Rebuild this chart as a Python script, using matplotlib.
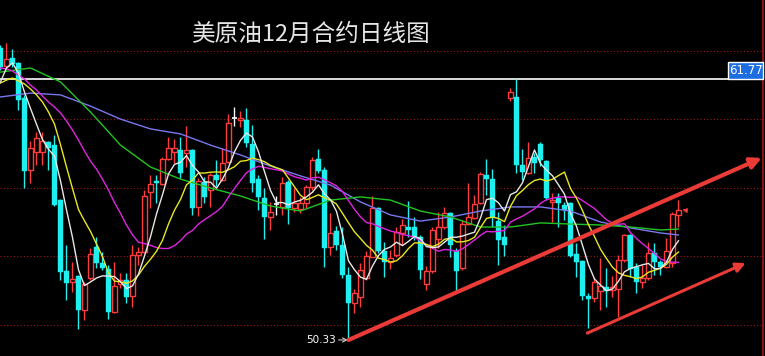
import numpy as np
import pandas as pd
import matplotlib
matplotlib.use("Agg")
import matplotlib.pyplot as plt
from matplotlib.collections import LineCollection
from matplotlib.patches import Rectangle

plt.rcParams['font.family'] = ['Noto Sans CJK SC', 'DejaVu Sans']

title = "美原油12月合约日线图"

opens = [63.13, 62.34, 62.69, 62.47, 60.93, 57.78, 58.57, 58.57, 59.01, 58.88,
         56.46, 53.35, 52.87, 53.13, 51.64, 53.05, 54.40, 53.70, 53.44, 51.56,
         52.78, 52.96, 52.26, 54.05, 54.18, 56.81, 57.30, 57.17, 58.26, 58.57,
         58.66, 58.52, 58.66, 56.16, 57.25, 56.90, 57.56, 57.34, 58.13, 60.06,
         59.97, 59.97, 58.92, 57.38, 56.55, 55.72, 56.29, 56.16, 57.25, 56.11,
         56.07, 56.33, 57.03, 58.26, 57.78, 54.40, 55.11, 54.49, 53.18, 51.95,
         52.21, 53.05, 53.97, 56.11, 54.23, 53.75, 54.05, 55.02, 55.28, 55.28,
         54.84, 52.78, 53.35, 54.75, 55.28, 55.89, 54.23, 53.48, 55.41, 55.68,
         56.33, 57.56, 57.38, 55.54, 54.84, 60.93, 60.98, 58.00, 57.65, 58.35,
         58.92, 58.17, 56.38, 56.55, 56.25, 56.33, 54.10, 53.79, 52.26, 52.17,
         52.48, 52.65, 52.52, 52.56, 53.83, 54.93, 53.53, 52.87, 53.05, 54.14,
         53.75, 53.53, 53.70, 55.81]

highs = [63.26, 63.35, 63.08, 62.51, 61.07, 59.05, 59.44, 59.44, 59.05, 59.31,
         56.51, 54.49, 53.75, 53.18, 52.87, 54.36, 54.84, 54.18, 53.62, 53.75,
         53.26, 53.26, 54.49, 54.40, 56.90, 57.56, 57.56, 58.35, 59.23, 59.14,
         59.23, 59.71, 58.70, 57.43, 57.47, 57.65, 58.22, 58.74, 60.23, 60.54,
         60.37, 60.50, 59.75, 57.56, 56.99, 56.38, 56.64, 57.47, 57.34, 56.99,
         56.60, 57.12, 58.35, 58.70, 57.91, 55.89, 55.32, 55.28, 53.53, 52.56,
         53.70, 54.23, 56.64, 56.16, 54.62, 54.27, 55.28, 55.63, 56.42, 55.72,
         54.93, 53.57, 55.28, 55.94, 56.16, 55.94, 54.36, 55.59, 57.21, 56.68,
         57.69, 58.26, 57.82, 55.94, 55.37, 61.37, 61.77, 58.70, 59.01, 58.52,
         59.01, 58.22, 56.77, 56.77, 56.38, 56.38, 54.58, 53.83, 52.39, 53.09,
         53.92, 53.48, 53.13, 54.05, 54.97, 54.97, 53.70, 53.62, 54.62, 54.58,
         53.83, 54.80, 55.94, 56.46]

lows = [62.16, 62.25, 62.29, 60.41, 56.99, 57.21, 58.00, 58.00, 57.78, 56.20,
        52.96, 52.08, 52.43, 50.81, 51.20, 52.96, 53.48, 53.40, 51.25, 51.51,
        52.61, 51.95, 51.77, 53.62, 54.14, 56.11, 56.33, 57.12, 58.22, 58.09,
        57.43, 57.91, 55.81, 55.76, 56.33, 56.16, 57.08, 57.30, 58.09, 59.71,
        59.66, 58.79, 56.81, 56.03, 54.75, 55.15, 55.81, 55.81, 55.41, 55.94,
        55.89, 56.11, 56.90, 57.65, 53.53, 54.05, 54.27, 53.05, 50.33, 51.51,
        51.77, 52.96, 53.97, 54.14, 53.09, 53.44, 53.97, 54.49, 54.84, 54.71,
        53.00, 52.52, 53.26, 54.36, 55.19, 53.97, 52.39, 53.40, 55.37, 55.63,
        56.29, 56.68, 55.28, 53.62, 54.01, 60.80, 57.65, 57.34, 57.60, 57.65,
        57.95, 56.46, 55.50, 55.28, 55.59, 53.97, 53.09, 52.08, 50.85, 51.99,
        51.64, 51.77, 52.21, 51.34, 53.75, 53.09, 52.39, 52.61, 52.96, 53.18,
        53.18, 53.48, 53.53, 55.28]

closes = [62.29, 62.64, 62.43, 60.85, 57.74, 58.74, 59.18, 59.05, 58.74, 56.25,
          53.31, 52.83, 53.00, 51.64, 52.78, 54.10, 53.70, 53.48, 51.56, 52.70,
          52.96, 52.21, 54.05, 54.18, 56.64, 57.17, 57.21, 58.26, 58.74, 58.74,
          57.65, 58.66, 56.11, 57.30, 56.60, 57.56, 57.34, 58.09, 59.84, 60.06,
          60.06, 58.96, 57.21, 56.60, 55.72, 55.94, 56.29, 57.21, 56.11, 56.33,
          56.33, 57.03, 58.22, 57.74, 54.36, 55.02, 54.49, 53.18, 51.95, 52.39,
          53.40, 54.01, 56.11, 54.23, 53.75, 53.92, 55.06, 55.37, 55.15, 54.84,
          53.40, 53.35, 55.15, 55.28, 55.89, 54.49, 53.35, 55.41, 55.72, 56.29,
          57.60, 57.38, 55.72, 54.71, 54.49, 61.20, 58.00, 57.69, 58.31, 58.09,
          58.22, 56.55, 56.46, 56.33, 56.03, 54.01, 53.75, 52.26, 52.12, 52.87,
          52.70, 52.48, 52.65, 53.83, 54.93, 53.44, 52.87, 53.05, 54.14, 53.75,
          53.53, 54.23, 55.85, 56.03]

# Moving-average values before their window is complete
ma5_lead = [61.64, 62.25, 62.47, 62.03]
ma10_lead = [61.59, 61.72, 61.81, 61.68, 61.55, 61.33, 61.07, 60.76, 60.32]
ma20_lead = [62.25, 62.21, 62.12, 61.94, 61.77, 61.50, 61.29, 61.02, 60.76, 60.54,
             60.28, 59.93, 59.53, 59.09, 58.61, 58.17, 57.82, 57.38, 56.90]

# Longer averages at every 5th bar
long_idx = [0, 5, 10, 15, 20, 25, 30, 35, 40, 45, 50, 55, 60, 65, 70, 75, 80, 85,
            90, 95, 100, 105, 110, 113]
ma_green = [62.07, 62.25, 61.64, 60.32, 58.87, 57.91, 57.38, 56.99, 56.64, 56.20,
            55.98, 56.46, 56.60, 56.46, 55.98, 55.72, 55.28, 55.28, 55.46, 55.41,
            55.37, 55.28, 55.15, 55.19]
ma_blue = [60.98, 61.15, 61.07, 60.58, 60.01, 59.58, 59.36, 58.87, 58.44, 57.95,
           57.52, 57.12, 56.38, 55.81, 55.54, 55.72, 55.98, 56.16, 56.16, 55.98,
           55.50, 55.24, 55.02, 54.93]

ref_high = 61.77
low_mark_idx = 58
# trend arrows: (start bar, start price, end bar, end price)
trend_big = (58.0, 50.33, 126.9, 58.31)
trend_small = (97.8, 50.63, 124.2, 53.70)

for arr in (opens, highs, lows, closes):
    assert len(arr) == 114, len(arr)

O = np.array(opens); H = np.array(highs); L = np.array(lows); C = np.array(closes)
n = len(C)
x = np.arange(n)

def moving(values, window, lead):
    s = pd.Series(values).rolling(window).mean().to_numpy()
    s[:window - 1] = lead
    return s

ma5 = moving(C, 5, ma5_lead)
ma10 = moving(C, 10, ma10_lead)
ma20 = moving(C, 20, ma20_lead)

UP = '#ff3c3c'
DOWN = '#1ef0f0'
DOJI = '#ffffff'
BG = '#000000'

W, Hpx = 765, 356
fig = plt.figure(figsize=(W / 100, Hpx / 100), dpi=100, facecolor=BG)
ax = fig.add_axes([0, 0, 1, 1])
ax.set_facecolor(BG)
x0 = -0.08
ax.set_xlim(x0, x0 + W / 6)
ymax = 65.23
ax.set_ylim(ymax - 0.04383 * Hpx, ymax)
ax.axis('off')

right_edge = x0 + 763 / 6

# grid
for g in [51, 54, 57, 60, 63]:
    ax.hlines(g, x0, right_edge, colors='#9a1818', linestyles=(0, (1, 2)), lw=0.8, zorder=0)
ax.vlines(right_edge, ax.get_ylim()[0], ax.get_ylim()[1], colors='#a01818', lw=1.2, zorder=0)

# reference high line and label
box_left = x0 + 728 / 6
ax.hlines(ref_high, x0, box_left, colors='white', lw=1.2, zorder=1)
box_h = 17 * 0.04383
ax.add_patch(Rectangle((box_left, ref_high), right_edge - box_left, box_h,
                       facecolor='#1c6de0', edgecolor='white', lw=1.0, zorder=5))
ax.text((box_left + right_edge) / 2, ref_high + box_h / 2, f"{ref_high:.2f}",
        color='white', fontsize=8.5, ha='center', va='center', family='DejaVu Sans', zorder=6)

# candles
colors = [UP if c > o else (DOWN if c < o else DOJI) for o, c in zip(O, C)]
segs = [[(xi, l), (xi, h)] for xi, l, h in zip(x, L, H)]
ax.add_collection(LineCollection(segs, colors=colors, linewidths=1.0, zorder=2))
bw = 0.72
for xi, o, c, col in zip(x, O, C, colors):
    lo, hi = min(o, c), max(o, c)
    if col == DOJI:
        ax.hlines(o, xi - bw / 2 - 0.1, xi + bw / 2 + 0.1, colors=DOJI, lw=1.2, zorder=3)
        continue
    hgt = max(hi - lo, 0.04)
    if col == UP:
        ax.add_patch(Rectangle((xi - bw / 2, lo), bw, hgt, facecolor=BG,
                               edgecolor=UP, lw=1.0, zorder=3))
    else:
        ax.add_patch(Rectangle((xi - bw / 2 - 0.08, lo), bw + 0.16, hgt, facecolor=DOWN,
                               edgecolor=DOWN, lw=0.3, zorder=3))

# moving averages
ax.plot(long_idx, ma_blue, color='#7a78f0', lw=1.0, zorder=4)
ax.plot(long_idx, ma_green, color='#22c422', lw=1.0, zorder=4)
ax.plot(x, ma20, color='#e024e0', lw=1.0, zorder=4)
ax.plot(x, ma10, color='#e8e820', lw=1.0, zorder=4)
ax.plot(x, ma5, color='#e8e8e8', lw=1.0, zorder=4)

# last price marker
ax.plot([n - 1 + 0.9, n - 1 + 1.4], [C[-1], C[-1]], color=UP, lw=1.2, zorder=4)
ax.plot(n - 1 + 0.9, C[-1], marker=4, color=UP, ms=3, zorder=4)

# low annotation
ax.annotate(f"{L[low_mark_idx]:.2f}", xy=(low_mark_idx - 0.1, L[low_mark_idx]),
            xytext=(-12, 0), textcoords='offset pixels', ha='right', va='center',
            color='white', fontsize=7.5, family='DejaVu Sans',
            arrowprops=dict(arrowstyle='->', color='#cccccc', lw=0.8,
                            shrinkA=0, shrinkB=0), zorder=6)

# trend arrows
for (xa, ya, xb, yb), lw, ms in [(trend_big, 3.0, 16), (trend_small, 2.2, 14)]:
    ax.annotate('', xy=(xb, yb), xytext=(xa, ya),
                arrowprops=dict(arrowstyle='-|>', color='#ea3b36', lw=lw,
                                mutation_scale=ms, shrinkA=0, shrinkB=0), zorder=7)

fig.text(311 / W, 1 - 34 / Hpx, title, ha='center', va='center',
         fontsize=17, color='#e6e6e6')

fig.savefig('out.png', dpi=100, facecolor=BG)
